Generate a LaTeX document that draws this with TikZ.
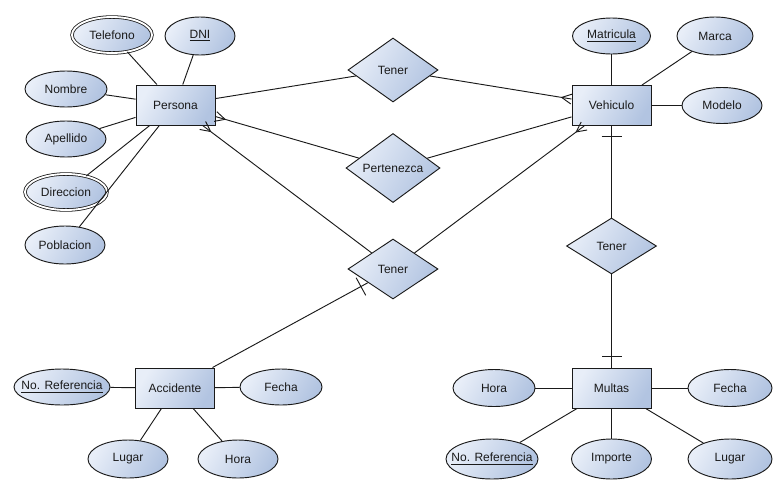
\documentclass[tikz,border=0pt]{standalone}
\usepackage{fontspec}
\setmainfont{Liberation Sans}
\usetikzlibrary{shapes.geometric,decorations.markings}
\definecolor{lite}{HTML}{E8EEF8}
\definecolor{dark}{HTML}{B2C4E1}
\definecolor{ink}{HTML}{1A1A1A}
% label of zero width, so that the ellipse keeps its given size
\newcommand{\lbl}[1]{\makebox[0pt]{#1}}

\begin{document}
\begin{tikzpicture}[x=0.75pt,y=-0.75pt,
  every node/.style={font=\fontsize{9pt}{11pt}\selectfont, text=ink},
  fillgrad/.style={draw=ink, line width=0.7pt, left color=lite, right color=dark, shading angle=60},
  entity/.style={fillgrad, rectangle, minimum width=59.25pt, minimum height=30pt, inner sep=0pt},
  attr/.style={fillgrad, ellipse, inner sep=0pt},
  multi/.style={double=white, double distance=1.4pt, line width=0.6pt},
  rel/.style={fillgrad, diamond, inner sep=0pt},
  link/.style={draw=ink, line width=0.7pt},
  crow/.style={postaction={decorate, decoration={markings,
      mark=at position 1 with {\draw[ink, line width=0.7pt] (-7.5pt,0) -- (0,3.75pt) (-7.5pt,0) -- (0,-3.75pt);}}}},
  onebar/.style={postaction={decorate, decoration={markings,
      mark=at position #1 with {\draw[ink, line width=0.7pt] (0,-7.5pt) -- (0,7.5pt);}}}},
]
\useasboundingbox[fill=white] (0,0) rectangle (784,493);

% entities
\node[entity] (per) at (175.5,105) {Persona};
\node[entity] (veh) at (611.5,105.5) {Vehiculo};
\node[entity] (acc) at (175,388) {Accidente};
\node[entity] (mul) at (611.5,388) {Multas};

% relationships
\node[rel, minimum width=67.5pt, minimum height=48pt] (t1) at (393,70) {Tener};
\node[rel, minimum width=70.5pt, minimum height=45pt] (pt) at (393,168) {Pertenezca};
\node[rel, minimum width=67.5pt, minimum height=45pt] (t2) at (393,269) {Tener};
\node[rel, minimum width=67.5pt, minimum height=42pt] (t3) at (611.5,246) {Tener};

% attributes of Persona
\node[attr, multi, minimum width=60pt, minimum height=27pt] (tel) at (112,35) {\lbl{Telefono}};
\node[attr, minimum width=52.5pt, minimum height=28.5pt] (dni) at (200,36) {\lbl{\underline{DNI}}};
\node[attr, minimum width=61.5pt, minimum height=27pt] (nom) at (66,89) {\lbl{Nombre}};
\node[attr, minimum width=60pt, minimum height=27pt] (ape) at (66,139) {\lbl{Apellido}};
\node[attr, multi, minimum width=61.5pt, minimum height=27pt] (dir) at (66,192) {\lbl{Direccion}};
\node[attr, minimum width=60pt, minimum height=28.5pt] (pob) at (65,245) {\lbl{Poblacion}};

% attributes of Vehiculo
\node[attr, minimum width=58.5pt, minimum height=27pt] (mat) at (611.5,36) {\lbl{\underline{Matricula}}};
\node[attr, minimum width=57pt, minimum height=28.5pt] (mar) at (715,36) {\lbl{Marca}};
\node[attr, minimum width=60pt, minimum height=27pt] (mod) at (722,105.5) {\lbl{Modelo}};

% attributes of Accidente
\node[attr, minimum width=72pt, minimum height=27pt] (nr1) at (62,387) {\lbl{\underline{No. Referencia}}};
\node[attr, minimum width=61.5pt, minimum height=27pt] (fe1) at (281,387) {\lbl{Fecha}};
\node[attr, minimum width=60pt, minimum height=28.5pt] (lu1) at (128,459) {\lbl{Lugar}};
\node[attr, minimum width=60pt, minimum height=28.5pt] (ho1) at (238,459) {\lbl{Hora}};

% attributes of Multas
\node[attr, minimum width=61.5pt, minimum height=27.75pt] (ho2) at (494,388) {\lbl{Hora}};
\node[attr, minimum width=63pt, minimum height=27.75pt] (fe2) at (730,388) {\lbl{Fecha}};
\node[attr, minimum width=69pt, minimum height=30pt] (nr2) at (492,459) {\lbl{\underline{No. Referencia}}};
\node[attr, minimum width=60pt, minimum height=30pt] (imp) at (611.5,459) {\lbl{Importe}};
\node[attr, minimum width=63pt, minimum height=30pt] (lu2) at (730,459) {\lbl{Lugar}};

% attribute links
\foreach \a in {tel,dni,nom,ape,dir,pob} \draw[link] (per) -- (\a);
\foreach \a in {mat,mar,mod} \draw[link] (veh) -- (\a);
\foreach \a in {nr1,fe1,lu1,ho1} \draw[link] (acc) -- (\a);
\foreach \a in {ho2,fe2,nr2,imp,lu2} \draw[link] (mul) -- (\a);

% relationship links with cardinality marks
\draw[link] (per) -- (t1);
\draw[link, crow] (t1) -- (veh);
\draw[link, crow] (pt) -- (per);
\draw[link] (pt) -- (veh);
\draw[link, crow] (t2) -- (per);
\draw[link, crow] (t2) -- (veh);
\draw[link, onebar=6pt] (t2) -- (acc);
\draw[link, onebar=7.5pt] (veh) -- (t3);
\draw[link, onebar=8.25pt] (mul) -- (t3);
\end{tikzpicture}
\end{document}
